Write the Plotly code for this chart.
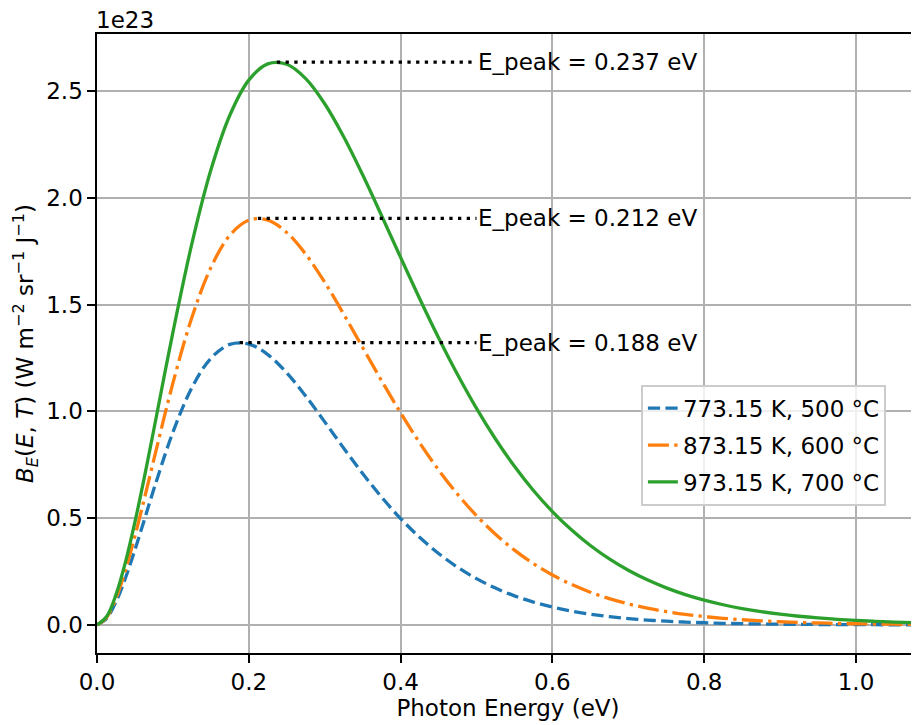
import plotly.graph_objects as go

# Photon energy grid (eV)
energy = [0.0, 0.0125, 0.025, 0.0375, 0.05, 0.0625, 0.075, 0.1, 0.125, 0.15, 0.175, 0.2,
          0.225, 0.25, 0.275, 0.3, 0.325, 0.35, 0.375, 0.4, 0.425, 0.45, 0.475, 0.5,
          0.525, 0.55, 0.575, 0.6, 0.625, 0.65, 0.675, 0.7, 0.725, 0.75, 0.775, 0.8,
          0.825, 0.85, 0.875, 0.9, 0.925, 0.95, 0.975, 1.0, 1.025, 1.05, 1.075, 1.1]

# Spectral radiance, units of 1e23 W m^-2 sr^-1 J^-1
b_773 = [0.0, 0.029764, 0.10792, 0.21947, 0.35162, 0.49373, 0.63712, 0.90215, 1.11100,
         1.24850, 1.31390, 1.31554, 1.26633, 1.18053, 1.07160, 0.95108, 0.82797,
         0.70886, 0.59809, 0.49819, 0.41028, 0.33447, 0.27019, 0.21648, 0.17216,
         0.13600, 0.10677, 0.083352, 0.064735, 0.050032, 0.038497, 0.029501, 0.022521,
         0.017131, 0.012988, 0.0098161, 0.0073972, 0.0055589, 0.0041666, 0.0031154,
         0.0023240, 0.0017298, 0.0012849, 0.00095260, 0.00070488, 0.00052064,
         0.00038392, 0.00028263]
b_873 = [0.0, 0.033987, 0.12468, 0.25670, 0.41662, 0.59297, 0.77607, 1.13228, 1.43974,
         1.67364, 1.82499, 1.89600, 1.89599, 1.83804, 1.73645, 1.60501, 1.45595,
         1.29941, 1.14327, 0.99332, 0.85342, 0.72594, 0.61197, 0.51171, 0.42475,
         0.35021, 0.28698, 0.23385, 0.18958, 0.15295, 0.12286, 0.098282, 0.078318,
         0.062192, 0.049220, 0.038833, 0.030548, 0.023965, 0.018751, 0.014637,
         0.011398, 0.0088568, 0.0068678, 0.0053148, 0.0041054, 0.0031655, 0.0024367,
         0.0018726]
b_973 = [0.0, 0.038213, 0.14148, 0.29411, 0.48218, 0.69353, 0.91768, 1.37017, 1.78567,
         2.13052, 2.38748, 2.55192, 2.62809, 2.62603, 2.55894, 2.44113, 2.28661,
         2.10820, 1.91680, 1.72146, 1.52916, 1.34507, 1.17270, 1.01426, 0.87086,
         0.74280, 0.62972, 0.53090, 0.44528, 0.37170, 0.30892, 0.25569, 0.21083,
         0.17322, 0.14185, 0.11580, 0.094262, 0.076514, 0.061947, 0.050033, 0.040316,
         0.032415, 0.026009, 0.020826, 0.016646, 0.013281, 0.010578, 0.0084119]

series_names = ["773.15 K, 500 °C", "873.15 K, 600 °C", "973.15 K, 700 °C"]
series_values = [b_773, b_873, b_973]
peak_E = [0.188, 0.212, 0.237]
peak_B = [1.3219, 1.904, 2.636]
peak_labels = ["E_peak = 0.188 eV", "E_peak = 0.212 eV", "E_peak = 0.237 eV"]
label_x = 0.5

colors = ["#1f77b4", "#ff7f0e", "#2ca02c"]
dashes = ["12.2px,5.3px", "21px,5.3px,3.3px,5.3px", "solid"]

FONT = "DejaVu Sans"
FS = 23

fig = go.Figure()

for i, (name, vals, c, d) in enumerate(zip(series_names, series_values, colors, dashes)):
    fig.add_trace(go.Scatter(x=energy, y=vals, mode="lines", name=name, legendgroup=f"g{i}",
                             line=dict(color=c, width=3.3, dash=d, shape="spline", smoothing=1.0)))

for pe, pb, lab in zip(peak_E, peak_B, peak_labels):
    fig.add_trace(go.Scatter(x=[pe, label_x], y=[pb, pb], mode="lines", showlegend=False,
                             line=dict(color="black", width=3.3, dash="3.3px,5.4px")))
    fig.add_annotation(x=label_x, y=pb, text=lab, showarrow=False, xanchor="left",
                       yanchor="middle", xshift=-1,
                       font=dict(family=FONT, size=FS, color="black"))

fig.add_annotation(xref="paper", yref="paper", x=0, y=1, text="1e23", showarrow=False,
                   xanchor="left", yanchor="bottom", yshift=0, xshift=-2, borderpad=0,
                   font=dict(family=FONT, size=FS, color="black"))

axis_common = dict(showgrid=True, gridcolor="#b0b0b0", gridwidth=1.75, zeroline=False,
                   showline=True, linecolor="black", linewidth=1.75,
                   ticks="outside", ticklen=7.7, tickwidth=1.75, tickcolor="black",
                   tickfont=dict(family=FONT, size=FS, color="black"))

# page body has an 8px margin, so the figure is offset by 8px
fig.update_layout(
    width=911, height=717,
    margin=dict(l=89, r=0, t=26, b=72),
    paper_bgcolor="white", plot_bgcolor="white",
    font=dict(family=FONT, size=FS, color="black"),
    xaxis=dict(range=[0, 1.083], tickvals=[0, 0.2, 0.4, 0.6, 0.8, 1.0],
               ticktext=["0.0", "0.2", "0.4", "0.6", "0.8", "1.0"], mirror=True,
               title=dict(text="Photon Energy (eV)", font=dict(family=FONT, size=FS), standoff=2),
               **axis_common),
    yaxis=dict(range=[-0.1318, 2.768], tickvals=[0, 0.5, 1.0, 1.5, 2.0, 2.5],
               ticktext=["0.0", "0.5", "1.0", "1.5", "2.0", "2.5"],
               title=dict(text="<i>B</i><sub><i>E</i></sub>(<i>E</i>, <i>T</i>) (W m<sup>−2</sup> sr<sup>−1</sup> J<sup>−1</sup>)",
                          font=dict(family=FONT, size=FS), standoff=6),
               **axis_common),
    legend=dict(x=0.662, xanchor="left", y=0.433, yanchor="top",
                bgcolor="rgba(255,255,255,0.8)", bordercolor="#cccccc", borderwidth=1.75,
                font=dict(family=FONT, size=FS, color="black"), tracegroupgap=4,
                traceorder="grouped"),
    showlegend=True,
)

fig.write_html("out.html")
